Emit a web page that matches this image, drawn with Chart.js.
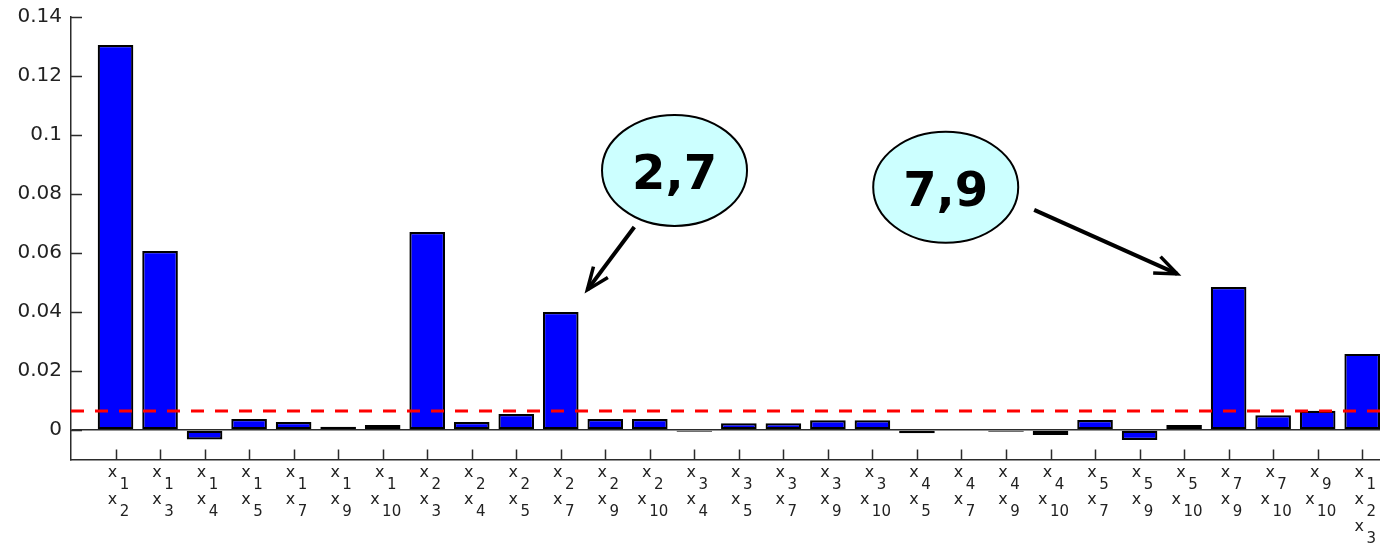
<!DOCTYPE html>
<html>
<head>
<meta charset="utf-8">
<script src="https://cdn.jsdelivr.net/npm/chart.js@4.4.1/dist/chart.umd.min.js"></script>
<style>
  html, body { margin: 0; padding: 0; background: #fff; }
  #wrap { width: 1380px; height: 543px; position: relative; overflow: hidden; }
</style>
</head>
<body>
<div id="wrap"><canvas id="c"></canvas></div>
<script>
// Variable index tuples for each interaction term (x_i x_j, last one x_1 x_2 x_3)
const interactions = [
  [1, 2], [1, 3], [1, 4], [1, 5], [1, 7], [1, 9], [1, 10],
  [2, 3], [2, 4], [2, 5], [2, 7], [2, 9], [2, 10],
  [3, 4], [3, 5], [3, 7], [3, 9], [3, 10],
  [4, 5], [4, 7], [4, 9], [4, 10],
  [5, 7], [5, 9], [5, 10],
  [7, 9], [7, 10],
  [9, 10],
  [1, 2, 3]
];

// Interaction effect for each term
const effects = [
  0.1305, 0.0607, -0.0032, 0.0037, 0.0027, 0.0011, 0.0017,
  0.0671, 0.0027, 0.0054, 0.0400, 0.0037, 0.0037,
  -0.0006, 0.0023, 0.0023, 0.0033, 0.0033,
  -0.0011, 0.0000, -0.0006, -0.0017,
  0.0034, -0.0034, 0.0017,
  0.0485, 0.0050,
  0.0065,
  0.0258
];

// Significance threshold (dashed red line)
const threshold = 0.0064;

// Value-axis tick labels
const yTicks = [0, 0.02, 0.04, 0.06, 0.08, 0.1, 0.12, 0.14];

// Axis limits
const xMin = 0, xMax = 29.4;
const yMin = -0.01, yMax = 0.14;

// Callout bubbles: label, bubble centre and arrow ends in data units
const callouts = [
  { text: '2,7', center: [13.555, 0.0880], from: [12.652, 0.0688], to: [11.597, 0.0475] },
  { text: '7,9', center: [19.646, 0.0823], from: [21.633, 0.0746], to: [24.844, 0.0529] }
];

const AXIS_COLOR = '#2b2b2b';
const TEXT_COLOR = '#222';

// MATLAB-style inward tick marks and subscripted term labels
const axisDecor = {
  id: 'axisDecor',
  afterDraw(chart) {
    const { ctx, scales: { x, y }, chartArea } = chart;
    ctx.save();
    ctx.strokeStyle = AXIS_COLOR;
    ctx.lineWidth = 1.5;
    ctx.beginPath();
    interactions.forEach((_, i) => {
      const px = Math.round(x.getPixelForValue(i + 1)) + 0.5;
      ctx.moveTo(px, chartArea.bottom);
      ctx.lineTo(px, chartArea.bottom - 10);
    });
    yTicks.forEach(v => {
      const py = Math.round(y.getPixelForValue(v)) + 0.5;
      ctx.moveTo(chartArea.left, py);
      ctx.lineTo(chartArea.left + 11, py);
    });
    ctx.stroke();

    ctx.fillStyle = TEXT_COLOR;
    ctx.textAlign = 'left';
    ctx.textBaseline = 'alphabetic';
    ctx.font = '16px "DejaVu Sans"';
    const wx = ctx.measureText('x').width;
    interactions.forEach((vars, i) => {
      const px = x.getPixelForValue(i + 1);
      vars.forEach((v, r) => {
        const sub = String(v);
        ctx.font = '15px "DejaVu Sans"';
        const ws = ctx.measureText(sub).width;
        const start = px + 3 - (wx + 2.5 + ws) / 2;
        const base = x.top + 17 + r * 27;
        ctx.font = '16px "DejaVu Sans"';
        ctx.fillText('x', start, base);
        ctx.font = '15px "DejaVu Sans"';
        ctx.fillText(sub, start + wx + 2.5, base + 12);
      });
    });
    ctx.restore();
  }
};

// Bubble callouts with arrows pointing at the highlighted bars
const calloutPlugin = {
  id: 'callouts',
  afterDraw(chart) {
    const { ctx, scales: { x, y } } = chart;
    ctx.save();
    callouts.forEach(c => {
      const cx = x.getPixelForValue(c.center[0]);
      const cy = y.getPixelForValue(c.center[1]);
      ctx.beginPath();
      ctx.ellipse(cx, cy, 72.5, 55.5, 0, 0, Math.PI * 2);
      ctx.fillStyle = '#ccffff';
      ctx.fill();
      ctx.lineWidth = 2;
      ctx.strokeStyle = '#000';
      ctx.stroke();

      ctx.fillStyle = '#000';
      ctx.font = 'bold 48px "DejaVu Sans"';
      ctx.textAlign = 'center';
      ctx.textBaseline = 'alphabetic';
      ctx.fillText(c.text, cx, cy + 18.5);

      const x0 = x.getPixelForValue(c.from[0]), y0 = y.getPixelForValue(c.from[1]);
      const x1 = x.getPixelForValue(c.to[0]), y1 = y.getPixelForValue(c.to[1]);
      ctx.lineWidth = 4;
      ctx.lineCap = 'butt';
      ctx.beginPath();
      ctx.moveTo(x0, y0);
      ctx.lineTo(x1, y1);
      ctx.stroke();
      const ang = Math.atan2(y0 - y1, x0 - x1);
      const head = 24, spread = 22 * Math.PI / 180;
      ctx.lineWidth = 3.5;
      ctx.lineJoin = 'miter';
      ctx.beginPath();
      ctx.moveTo(x1 + head * Math.cos(ang + spread), y1 + head * Math.sin(ang + spread));
      ctx.lineTo(x1, y1);
      ctx.lineTo(x1 + head * Math.cos(ang - spread), y1 + head * Math.sin(ang - spread));
      ctx.stroke();
    });
    ctx.restore();
  }
};

new Chart(document.getElementById('c'), {
  type: 'bar',
  data: {
    datasets: [
      {
        type: 'line',
        order: 0,
        data: [{ x: xMin, y: threshold }, { x: xMax, y: threshold }],
        borderColor: '#ff0000',
        borderWidth: 3,
        borderDash: [13, 11],
        pointRadius: 0,
        fill: false
      },
      {
        type: 'bar',
        order: 1,
        data: effects.map((v, i) => ({ x: i + 1, y: v })),
        backgroundColor: '#0000ff',
        borderColor: '#000',
        borderWidth: 2.2,
        borderSkipped: false,
        barPercentage: 0.8,
        categoryPercentage: 1
      }
    ]
  },
  options: {
    responsive: true,
    maintainAspectRatio: false,
    animation: false,
    events: [],
    layout: { autoPadding: false, padding: { top: 17, right: 0, bottom: 0, left: 0 } },
    plugins: { legend: { display: false }, tooltip: { enabled: false } },
    scales: {
      x: {
        type: 'linear',
        min: xMin,
        max: xMax,
        offset: false,
        ticks: { display: false },
        grid: { display: false },
        border: { display: true, color: AXIS_COLOR, width: 1.5 },
        afterFit(s) { s.height = 83.5; s.paddingLeft = 0; s.paddingRight = 0; }
      },
      y: {
        min: yMin,
        max: yMax,
        afterBuildTicks(s) { s.ticks = yTicks.map(v => ({ value: v })); },
        afterFit(s) { s.width = 71; s.paddingTop = 0; s.paddingBottom = 0; },
        ticks: {
          padding: 9,
          color: TEXT_COLOR,
          font: { family: '"DejaVu Sans"', size: 20 },
          callback: v => String(+v.toFixed(2))
        },
        grid: {
          drawTicks: false,
          lineWidth: 1.5,
          color: c => (c.tick && c.tick.value === 0 ? AXIS_COLOR : 'rgba(0,0,0,0)')
        },
        border: { display: true, color: AXIS_COLOR, width: 1.5 }
      }
    }
  },
  plugins: [axisDecor, calloutPlugin]
});
</script>
</body>
</html>
